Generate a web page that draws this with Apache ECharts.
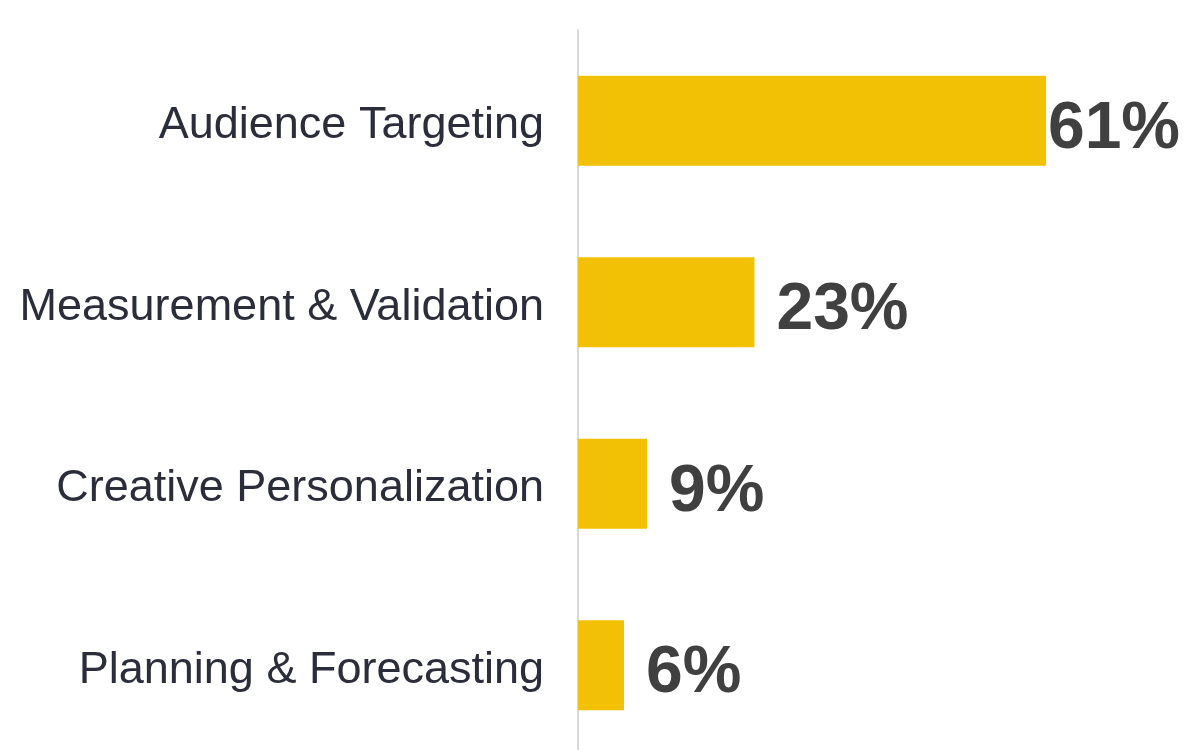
<!DOCTYPE html>
<html>
<head>
<meta charset="utf-8">
<script src="https://cdn.jsdelivr.net/npm/echarts@6/dist/echarts.min.js"></script>
<style>html,body{margin:0;padding:0;background:#fff}#c{width:1200px;height:750px}</style>
</head>
<body>
<div id="c"></div>
<script>
const categories = ["Audience Targeting", "Measurement & Validation", "Creative Personalization", "Planning & Forecasting"];
const values = [61, 23, 9, 6];
const labelGaps = [2, 22, 22, 22];

const chart = echarts.init(document.getElementById('c'), null, {renderer: 'canvas'});
chart.setOption({
  animation: false,
  backgroundColor: '#ffffff',
  grid: {left: 578, width: 537, top: 30, height: 726, containLabel: false, outerBoundsMode: 'none'},
  xAxis: {
    type: 'value', min: 0, max: 70,
    show: false
  },
  yAxis: {
    type: 'category',
    inverse: true,
    data: categories,
    axisLine: {show: true, lineStyle: {color: '#d9d9d9', width: 2}},
    axisTick: {show: false},
    axisLabel: {
      margin: 34,
      formatter: v => '{a|' + v + '}',
      rich: {
        a: {
          padding: [10, 0, 0, 0],
          fontFamily: 'Liberation Sans, Arial, sans-serif',
          fontSize: 45,
          color: '#2b2d3a'
        }
      },
      fontFamily: 'Liberation Sans, Arial, sans-serif',
      fontSize: 45,
      color: '#2b2d3a'
    }
  },
  series: [{
    type: 'bar',
    barWidth: 90,
    itemStyle: {color: '#f2c005'},
    data: values.map((v, i) => ({
      value: v,
      label: {distance: labelGaps[i]}
    })),
    label: {
      show: true,
      position: 'right',
      offset: [0, 9],
      formatter: p => p.value + '%',
      fontFamily: 'Liberation Sans, Arial, sans-serif',
      fontWeight: 'bold',
      fontSize: 66,
      color: '#404040'
    }
  }]
});
</script>
</body>
</html>
